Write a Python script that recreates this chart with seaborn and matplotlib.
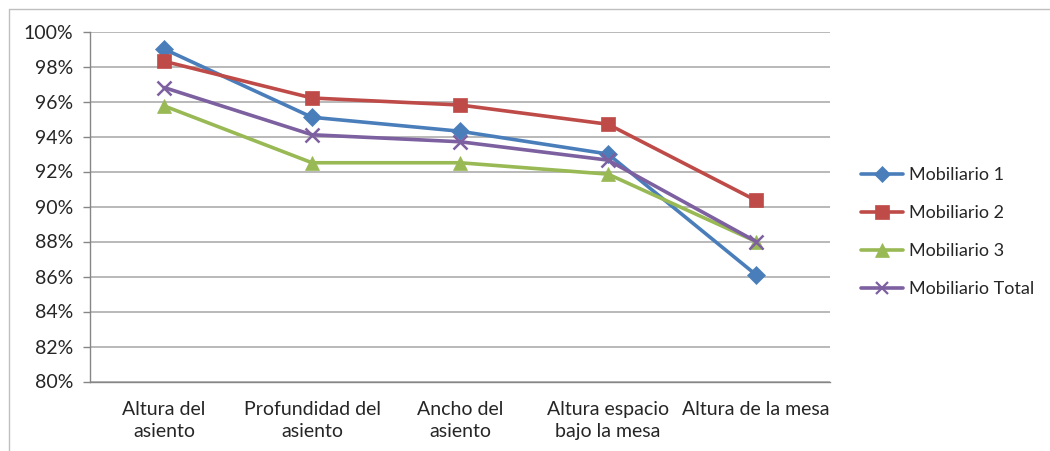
import matplotlib
matplotlib.use("Agg")
import matplotlib.pyplot as plt
import seaborn as sns
import pandas as pd
from matplotlib.lines import Line2D
from matplotlib.ticker import FuncFormatter, MultipleLocator, FixedLocator

categories = ["Altura del\nasiento", "Profundidad del\nasiento", "Ancho del\nasiento",
              "Altura espacio\nbajo la mesa", "Altura de la mesa"]
mobiliario_1 = [99.0, 95.1, 94.3, 93.0, 86.1]
mobiliario_2 = [98.3, 96.2, 95.8, 94.7, 90.35]
mobiliario_3 = [95.75, 92.5, 92.5, 91.85, 88.0]
mobiliario_total = [96.8, 94.1, 93.7, 92.65, 88.0]
series_names = ["Mobiliario 1", "Mobiliario 2", "Mobiliario 3", "Mobiliario Total"]

sns.set_style("white")
plt.rcParams["font.family"] = ["Lato", "DejaVu Sans"]

colors = ["#4A7EBB", "#BE4B48", "#98B954", "#7D60A0"]
markers = ["D", "s", "^", "x"]
msizes = [9, 10.5, 10.5, 10]

rows = []
for name, vals in zip(series_names, [mobiliario_1, mobiliario_2, mobiliario_3, mobiliario_total]):
    for i, v in enumerate(vals):
        rows.append({"serie": name, "pos": i, "valor": v})
df = pd.DataFrame(rows)

fig = plt.figure(figsize=(10.5, 4.51), dpi=100)
ax = fig.add_axes([90/1050, 1-381.5/451, (830-90)/1050, (381.5-31.5)/451])

for name, c, m, ms in zip(series_names, colors, markers, msizes):
    sub = df[df["serie"] == name]
    sns.lineplot(data=sub, x="pos", y="valor", ax=ax, color=c, linewidth=2.6,
                 marker=m, markersize=ms, markeredgecolor=c, markerfacecolor=c,
                 markeredgewidth=1.8 if m == "x" else 0.5, legend=False)

ax.set_xlim(-0.5, 4.5)
ax.set_ylim(80, 100)
ax.yaxis.set_major_locator(MultipleLocator(2))
ax.yaxis.set_major_formatter(FuncFormatter(lambda v, p: f"{v:.0f}%"))
ax.set_xticks(range(len(categories)))
ax.set_xticklabels(categories, fontsize=14, linespacing=1.38)
ax.xaxis.set_minor_locator(FixedLocator([-0.5, 0.5, 1.5, 2.5, 3.5, 4.5]))
ax.tick_params(axis="x", which="major", length=0, pad=14)
ax.tick_params(axis="x", which="minor", length=5, color="#868686", width=1, direction="out")
ax.tick_params(axis="y", length=5, color="#868686", width=1, direction="out", labelsize=14, pad=7, left=True)
ax.set_xlabel("")
ax.set_ylabel("")
ax.grid(axis="y", color="#A6A6A6", linewidth=1.1)
ax.set_axisbelow(True)
for s in ["top", "right"]:
    ax.spines[s].set_visible(False)
for s in ["left", "bottom"]:
    ax.spines[s].set_color("#868686")
    ax.spines[s].set_linewidth(1)

handles = [Line2D([0], [0], color=c, lw=2.6, marker=m, markersize=ms * 0.9, markerfacecolor=c,
                  markeredgecolor=c, markeredgewidth=1.6 if m == "x" else 0.5)
           for c, m, ms in zip(colors, markers, msizes)]
fig.legend(handles, series_names, loc="center left", bbox_to_anchor=(861/1050, 1-232/451),
           frameon=False, fontsize=13, handlelength=2.3, labelspacing=1.22, handletextpad=0.35,
           borderpad=0, borderaxespad=0)

# chart-area border (top and left visible in the reference)
fig.add_artist(Line2D([9/1050, 9/1050], [0, 1-9/451], transform=fig.transFigure,
                      color="#BFBFBF", linewidth=1))
fig.add_artist(Line2D([9/1050, 1], [1-9/451, 1-9/451], transform=fig.transFigure,
                      color="#BFBFBF", linewidth=1))

fig.savefig("out.png", dpi=100)
